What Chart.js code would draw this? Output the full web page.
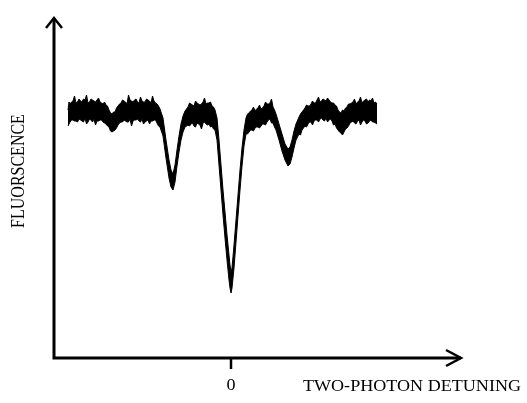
<!DOCTYPE html>
<html>
<head>
<meta charset="utf-8">
<script src="https://cdn.jsdelivr.net/npm/chart.js@4/dist/chart.umd.min.js"></script>
<style>
    html, body { margin: 0; padding: 0; background: #fff; }
    canvas { display: block; }
</style>
</head>
<body>
<canvas id="chart" width="527" height="403"></canvas>
<script>
/*
Fluorescence versus two-photon detuning.
Trace is noisy, so it is kept as an upper and a lower envelope
(arbitrary units) and the band between them is filled.
Three dips: two side dips and the deep one at zero detuning.
Flat stretches are sampled finer to keep the noise spikes.
*/

const detuning = [
    // flat, left
    -163, -162, -161, -159.5, -158, -156.5, -155, -153.5, -152, -150.5,
    -149, -147.5, -146, -144.5, -143, -141.5, -140, -138.5, -137, -135.5,
    -134, -132.5, -131, -129.5, -128, -126.5, -125, -123.5, -122, -120.5,
    -119, -117.5, -116, -114.5, -113, -111.5, -110, -108.5, -107, -105.5,
    -104, -102.5, -101, -99.5, -98, -96.5, -95, -93.5, -92, -90.5,
    -89, -87.5, -86, -84.5, -83, -81.5, -80, -78.5, -77, -75.5,
    -74, -72.5, -71,
    // left dip
    -68, -65, -62, -60, -58, -56, -54, -52, -50, -48, -46,
    // flat
    -43, -41.5, -40, -38.5, -37, -35.5, -34, -32.5, -31, -29.5,
    -28, -26.5, -25, -23.5, -22, -20.5, -19, -17.5, -16,
    // central dip
    -14, -12, -10, -8, -6, -4, -2, -1, 0, 1, 3, 5, 7, 9, 11, 13,
    // flat
    15, 16.5, 18, 19.5, 21, 22.5, 24, 25.5, 27, 28.5,
    30, 31.5, 33, 34.5, 36, 37.5, 39, 40.5, 42, 43.5, 45,
    // right dip
    48, 51, 54, 57, 59, 61, 63, 65,
    // flat, right
    68, 69.5, 71, 72.5, 74, 75.5, 77, 78.5, 80, 81.5,
    83, 84.5, 86, 87.5, 89, 90.5, 92, 93.5, 95, 96.5,
    98, 99.5, 101, 102.5, 104, 105.5, 107, 108.5, 110, 111.5,
    113, 114.5, 116, 117.5, 119, 120.5, 122, 123.5, 125, 126.5,
    128, 129.5, 131, 132.5, 134, 135.5, 137, 138.5, 140, 141.5,
    143, 144.5, 146
];

const fluor_upper = [
    248, 256, 254, 256, 257, 262, 255, 256, 259, 257,
    256, 259, 258, 263, 255, 256, 259, 258, 257, 256,
    258, 260, 256, 255, 254, 256, 253, 252, 248, 245,
    244, 246, 246, 250, 252, 254, 255, 258, 257, 256,
    254, 263, 258, 257, 256, 258, 259, 256, 255, 261,
    257, 256, 256, 259, 258, 257, 255, 262, 257, 255,
    254, 252, 249,
    240, 218, 198, 188, 184, 193, 208, 222, 234, 242, 247,
    251, 255, 254, 253, 252, 257, 255, 254, 253, 254,
    256, 260, 254, 255, 255, 256, 252, 251, 248,
    240, 218, 193, 168, 146, 123, 103, 93, 86, 90, 113, 138, 163, 188, 210, 228,
    240, 244, 245, 247, 248, 251, 247, 249, 250, 253,
    249, 250, 252, 256, 254, 254, 255, 259, 251, 248, 244,
    234, 224, 214, 209, 211, 218, 227, 234,
    241, 244, 246, 248, 250, 253, 252, 252, 254, 257,
    255, 255, 258, 261, 256, 257, 259, 258, 257, 260,
    258, 256, 255, 255, 253, 252, 248, 246, 245, 248,
    247, 250, 251, 254, 254, 255, 256, 259, 254, 256,
    257, 261, 255, 257, 258, 259, 256, 258, 257, 260,
    255, 256, 254
];

const fluor_lower = [
    232, 234, 236, 238, 238, 237, 237, 236, 239, 238,
    237, 236, 240, 234, 236, 239, 238, 236, 239, 233,
    237, 237, 238, 238, 236, 235, 234, 232, 231, 227,
    226, 227, 228, 230, 233, 235, 236, 236, 238, 237,
    236, 236, 239, 232, 237, 238, 238, 239, 237, 236,
    239, 234, 236, 237, 238, 234, 237, 237, 238, 238,
    235, 232, 231,
    222, 200, 180, 171, 168, 176, 192, 206, 218, 226, 231,
    233, 232, 234, 235, 232, 231, 235, 234, 233, 229,
    235, 236, 234, 233, 234, 231, 232, 229, 228,
    218, 193, 168, 143, 120, 98, 78, 70, 65, 70, 90, 116, 142, 168, 192, 212,
    224, 224, 226, 228, 228, 227, 230, 231, 231, 230,
    232, 234, 234, 233, 236, 238, 239, 235, 235, 231, 228,
    218, 207, 198, 192, 194, 201, 210, 218,
    224, 223, 228, 230, 232, 231, 234, 236, 236, 233,
    237, 238, 238, 236, 239, 240, 238, 237, 240, 236,
    238, 239, 237, 233, 234, 230, 228, 226, 225, 223,
    226, 229, 230, 232, 235, 236, 237, 235, 234, 237,
    238, 233, 236, 238, 237, 234, 235, 237, 238, 236,
    236, 235, 234
];

const x_ticks = [0];
const x_range = [-177, 231];
const y_range = [0, 340];
const x_title = 'TWO-PHOTON DETUNING';
const y_title = 'FLUORSCENCE';

const ink = '#000';
const text_font = '16px "Liberation Serif", "Times New Roman", serif';
const stretch = 1.13;

function to_points(ys) {
    return detuning.map((x, i) => ({x: x, y: ys[i]}));
}

// axes with open arrowheads, the zero tick and the titles
const arrow_axes = {
    id: 'arrow_axes',
    afterDraw(chart) {
        const ctx = chart.ctx,
            xs = chart.scales.x,
            ys = chart.scales.y,
            x0 = xs.left,
            y0 = ys.bottom,
            top = ys.top - 1,
            right = xs.right;

        ctx.save();
        ctx.strokeStyle = ink;
        ctx.fillStyle = ink;
        ctx.lineWidth = 3;
        ctx.lineCap = 'butt';
        ctx.lineJoin = 'miter';

        ctx.beginPath();
        ctx.moveTo(x0, top + 1);
        ctx.lineTo(x0, y0);
        ctx.lineTo(right - 1, y0);
        ctx.stroke();

        ctx.lineWidth = 2.5;
        ctx.beginPath();
        ctx.moveTo(x0 - 8, top + 11);
        ctx.lineTo(x0, top + 1);
        ctx.lineTo(x0 + 8, top + 11);
        ctx.moveTo(right - 16, y0 - 8);
        ctx.lineTo(right - 1, y0);
        ctx.lineTo(right - 16, y0 + 8);
        ctx.stroke();

        ctx.font = text_font;
        ctx.textBaseline = 'alphabetic';
        ctx.textAlign = 'center';
        ctx.lineWidth = 2.5;
        x_ticks.forEach(v => {
            const px = xs.getPixelForValue(v);
            ctx.beginPath();
            ctx.moveTo(px, y0);
            ctx.lineTo(px, y0 + 11);
            ctx.stroke();
            ctx.save();
            ctx.translate(px, y0 + 32);
            ctx.scale(stretch, 1);
            ctx.fillText(String(v), 0, 0);
            ctx.restore();
        });

        ctx.save();
        ctx.translate(412, y0 + 33);
        ctx.scale(stretch, 1);
        ctx.fillText(x_title, 0, 0);
        ctx.restore();

        ctx.save();
        ctx.translate(19, 171);
        ctx.scale(stretch, 1);
        ctx.rotate(-Math.PI / 2);
        ctx.textBaseline = 'middle';
        ctx.fillText(y_title, 0, 0);
        ctx.restore();

        ctx.restore();
    }
};

const config = {
    type: 'line',
    data: {
        datasets: [
            {
                label: 'upper',
                data: to_points(fluor_upper),
                borderColor: ink,
                borderWidth: 1,
                pointRadius: 0,
                fill: false
            },
            {
                label: 'lower',
                data: to_points(fluor_lower),
                borderColor: ink,
                backgroundColor: ink,
                borderWidth: 1,
                pointRadius: 0,
                fill: '-1'
            }
        ]
    },
    options: {
        responsive: false,
        animation: false,
        layout: {
            padding: {left: 54, top: 18, right: 65, bottom: 45}
        },
        plugins: {
            legend: {display: false},
            tooltip: {enabled: false}
        },
        elements: {
            line: {tension: 0}
        },
        scales: {
            x: {type: 'linear', min: x_range[0], max: x_range[1], display: false},
            y: {type: 'linear', min: y_range[0], max: y_range[1], display: false}
        }
    },
    plugins: [arrow_axes]
};

window.onload = function () {
    const ctx = document.getElementById('chart').getContext('2d');
    new Chart(ctx, config);
};
</script>
</body>
</html>
